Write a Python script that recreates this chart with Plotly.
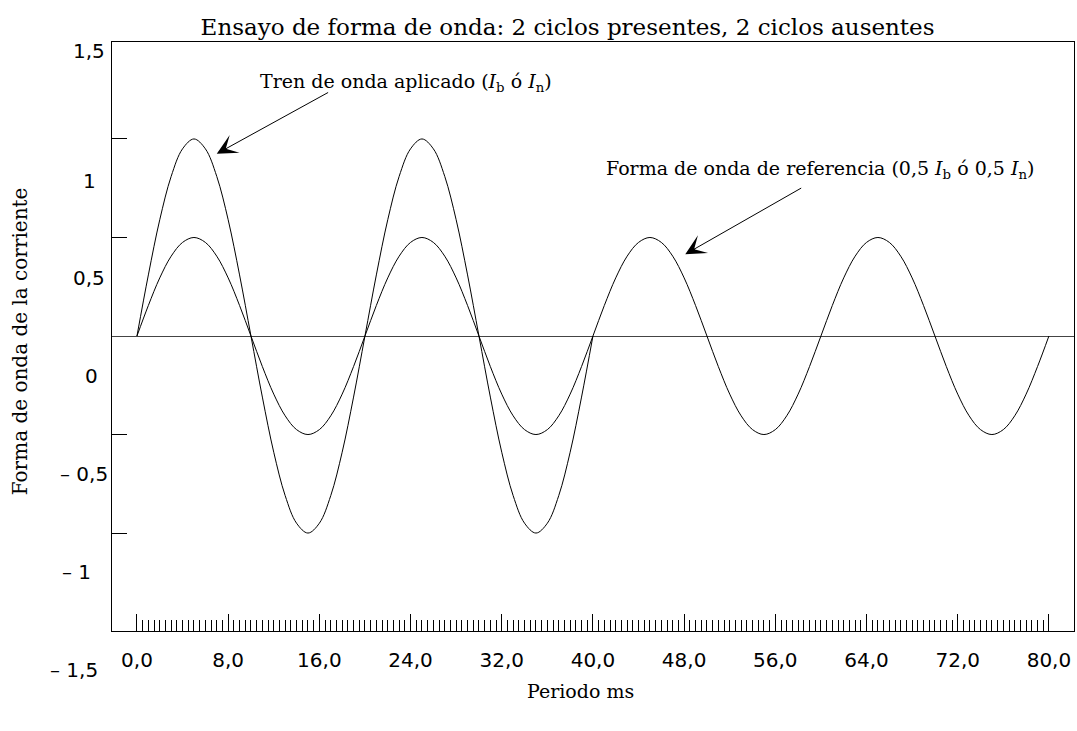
import plotly.graph_objects as go

# --- data ---
t_applied = list(range(0, 41))  # ms
applied = [0, 0.31, 0.59, 0.81, 0.95, 1.0, 0.95, 0.81, 0.59, 0.31,
           0, -0.31, -0.59, -0.81, -0.95, -1.0, -0.95, -0.81, -0.59, -0.31,
           0, 0.31, 0.59, 0.81, 0.95, 1.0, 0.95, 0.81, 0.59, 0.31,
           0, -0.31, -0.59, -0.81, -0.95, -1.0, -0.95, -0.81, -0.59, -0.31, 0]
t_ref = list(range(0, 81))
ref_cycle = [0, 0.155, 0.295, 0.405, 0.475, 0.5, 0.475, 0.405, 0.295, 0.155,
             0, -0.155, -0.295, -0.405, -0.475, -0.5, -0.475, -0.405, -0.295, -0.155]
reference = ref_cycle * 4 + [0]

x_tickvals = [0, 8, 16, 24, 32, 40, 48, 56, 64, 72, 80]
x_ticktext = ["0,0", "8,0", "16,0", "24,0", "32,0", "40,0", "48,0", "56,0", "64,0", "72,0", "80,0"]
y_tickmarks = [-1, -0.5, 0.5, 1]
y_labels = ["1,5", "1", "0,5", "0", "\u2013 0,5", "\u2013 1", "\u2013 1,5"]

# label placement (paper fraction of plot height) and right-edge shift in px
y_label_pos = [0.985, 0.764, 0.599, 0.433, 0.267, 0.100, -0.066]
y_label_shift = [-5, -14, -5, -12, -2, -19, -12]

title = "Ensayo de forma de onda: 2 ciclos presentes, 2 ciclos ausentes"
serif = "DejaVu Serif, serif"
sans = "DejaVu Sans, sans-serif"

fig = go.Figure()
fig.add_trace(go.Scatter(x=t_ref, y=reference, mode="lines", line=dict(color="black", width=1, shape="spline"),
                         hoverinfo="skip", showlegend=False))
fig.add_trace(go.Scatter(x=t_applied, y=applied, mode="lines", line=dict(color="black", width=1, shape="spline"),
                         hoverinfo="skip", showlegend=False))

minor_vals = [i * 0.5 for i in range(0, 161) if i % 16 != 0]

fig.update_layout(
    width=1077, height=731,
    margin=dict(l=112, r=3, t=42, b=100),
    paper_bgcolor="white", plot_bgcolor="white",
    title=dict(text=title, x=0.527, xanchor="center", xref="container", y=0.963, yanchor="middle",
               font=dict(family=serif, size=23, color="black")),
    xaxis=dict(range=[-2.19, 82.2], showgrid=False, zeroline=False, automargin=False,
               showline=True, mirror=True, linecolor="black", linewidth=1,
               tickmode="array", tickvals=x_tickvals, ticktext=x_ticktext,
               ticks="inside", ticklen=17, tickcolor="black", tickwidth=1,
               ticklabelstandoff=11,
               tickfont=dict(family=sans, size=20, color="black"),
               minor=dict(tickmode="array", tickvals=minor_vals, ticks="inside", ticklen=11,
                          tickcolor="black", tickwidth=1)),
    yaxis=dict(range=[-1.497, 1.492], showgrid=False, automargin=False,
               zeroline=True, zerolinecolor="#444", zerolinewidth=1,
               showline=True, mirror=True, linecolor="black", linewidth=1,
               tickmode="array", tickvals=y_tickmarks, showticklabels=False,
               ticks="inside", ticklen=15, tickcolor="black", tickwidth=1),
)

# axis titles
fig.add_annotation(x=0.5, xref="paper", xshift=-13, y=0, yref="paper", yshift=-60, yanchor="middle",
                   text="Periodo ms", showarrow=False, font=dict(family=serif, size=19, color="black"))
fig.add_annotation(x=0, xref="paper", xshift=-92, xanchor="center", y=0.492, yref="paper", yanchor="middle",
                   text="Forma de onda de la corriente", textangle=-90, showarrow=False,
                   font=dict(family=serif, size=20, color="black"))

# y tick labels
for lab, pos, sh in zip(y_labels, y_label_pos, y_label_shift):
    fig.add_annotation(x=0, xref="paper", xanchor="right", xshift=sh, y=pos, yref="paper",
                       yanchor="middle", text=lab, showarrow=False,
                       font=dict(family=sans, size=20, color="black"))

# text labels
fig.add_annotation(x=23.6, y=1.284, xref="x", yref="y", showarrow=False,
                   text="Tren de onda aplicado (<i>I</i><sub>b</sub> ó <i>I</i><sub>n</sub>)",
                   font=dict(family=serif, size=19, color="black"))
fig.add_annotation(x=59.9, y=0.843, xref="x", yref="y", showarrow=False,
                   text="Forma de onda de referencia (0,5 <i>I</i><sub>b</sub> ó 0,5 <i>I</i><sub>n</sub>)",
                   font=dict(family=serif, size=19, color="black"))
# arrows
fig.add_annotation(x=7.0, y=0.925, ax=16.9, ay=1.24, xref="x", yref="y", axref="x", ayref="y",
                   text="", showarrow=True, arrowhead=3, arrowsize=3.4, arrowwidth=1, arrowcolor="black")
fig.add_annotation(x=48.1, y=0.415, ax=58.4, ay=0.755, xref="x", yref="y", axref="x", ayref="y",
                   text="", showarrow=True, arrowhead=3, arrowsize=3.4, arrowwidth=1, arrowcolor="black")

fig.write_html("out.html", config={"displayModeBar": False},
               post_script="document.body.style.margin='0';document.body.style.padding='0';")
